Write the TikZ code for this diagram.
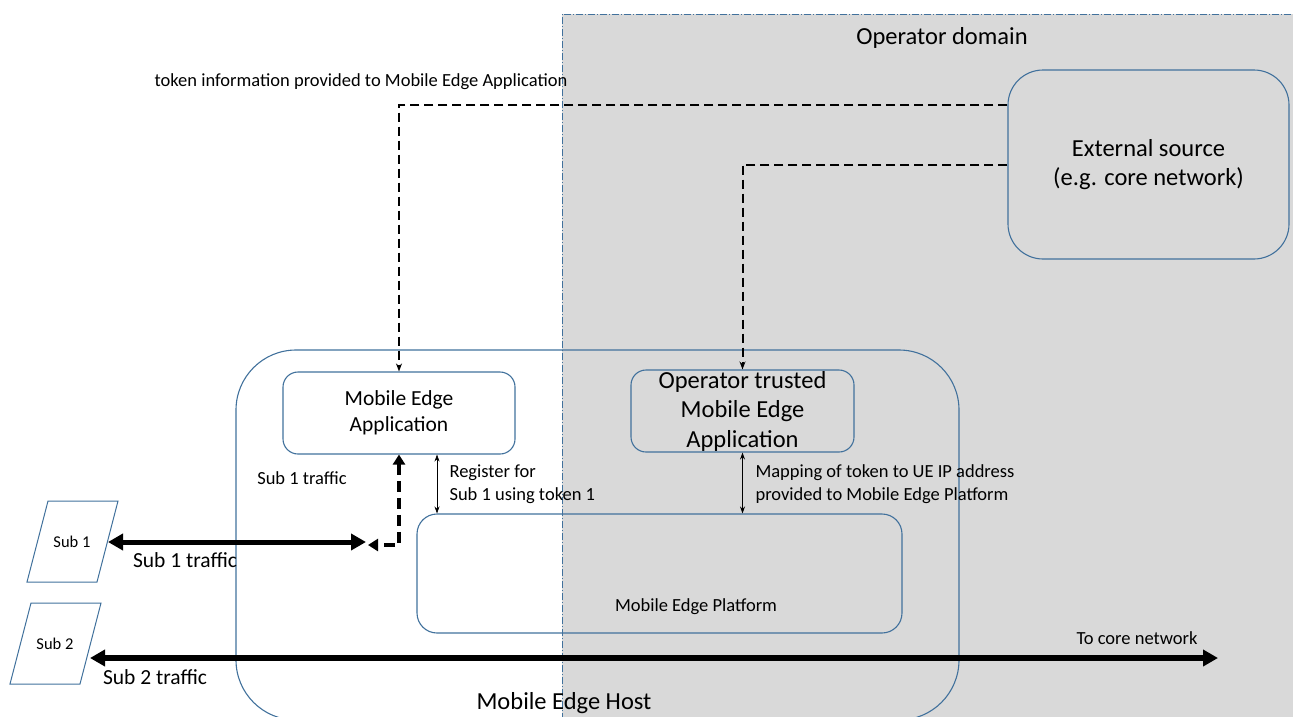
\documentclass[tikz,border=0pt]{standalone}
\usepackage{fontspec}
\setmainfont{Carlito}
\usetikzlibrary{arrows.meta}
\definecolor{opgray}{RGB}{217,217,217}
\definecolor{boxblue}{RGB}{65,113,156}
\begin{document}
\begin{tikzpicture}[x=1pt,y=-1pt,
	box/.style={draw=boxblue,line width=1.1pt,rounded corners=#1,align=center,inner sep=0pt},
	box/.default=15pt,
	txtS/.style={font=\fontsize{18.5}{23}\selectfont,align=left},
	txtM/.style={font=\fontsize{21.5}{26}\selectfont,align=center},
	txtL/.style={font=\fontsize{24.5}{29.5}\selectfont,align=center},
	fat/.style={line width=5pt,{Triangle[length=15pt,width=16pt]}-{Triangle[length=15pt,width=16pt]}},
	fatdash/.style={line width=4pt,dash pattern=on 11pt off 6pt,{Triangle[length=10pt,width=12pt]}-{Triangle[length=10pt,width=12pt]}},
	token/.style={line width=2pt,dash pattern=on 9pt off 5pt,-{Stealth[length=8pt,width=6pt]}},
	link/.style={line width=0.7pt,{Stealth[length=7pt,width=5pt]}-{Stealth[length=7pt,width=5pt]}}]
	\clip (0,0) rectangle (1293,716);
	\fill[opgray] (562,14) rectangle (1300,720);
	\draw[boxblue,line width=1pt,dash pattern=on 7pt off 2pt on 1pt off 2pt] (562,720)--(562,14)--(1300,14);
	\node[txtL] (dom) at (942,38) {Operator domain};
	\node[box=60pt,minimum width=723pt,minimum height=370pt] (host) at (597.5,535) {};
	\node[txtL] (hostlbl) at (564,703) {Mobile Edge Host};
	\node[box,txtM,minimum width=232pt,minimum height=82pt] (mea) at (399,413) {Mobile Edge\\Application};
	\node[box,txtL,minimum width=223pt,minimum height=82pt] (otmea) at (742.5,411) {Operator trusted\\Mobile Edge\\Application};
	\node[box=20pt,minimum width=485pt,minimum height=119pt] (mep) at (659.5,573.5) {};
	\node[txtS] (meplbl) at (696,607) {Mobile Edge Platform};
	\node[box=35pt,txtL,minimum width=281pt,minimum height=189pt] (ext) at (1148.5,164.5) {External source\\(e.g. core network)};
	\foreach \n/\x/\y in {1/48/501,2/31/603}{
		\draw[boxblue,line width=1pt] (\x,\y) -- ++(70,0) -- ++(-21,81) -- ++(-70,0) -- cycle;
		\node[font=\fontsize{16.5}{18}\selectfont] (sub\n) at (\x+24,\y+41) {Sub \n};
	}
	\path (108,542) coordinate (s1a)
		(366,542) coordinate (s1b)
		(368,545) coordinate (jn)
		(90,658) coordinate (s2a)
		(1218,658) coordinate (core);
	\draw[token] ([yshift=59.5pt]ext.west) -| (mea.north);
	\draw[token] (ext.west) -| (otmea.north);
	\node[txtS] (toklbl) at (361,82) {token information provided to Mobile Edge Application};
	\draw[fat] (s1a) -- (s1b);
	\node[txtM] (s1lbl) at (185,560) {Sub 1 traffic};
	\draw[fatdash] (mea.south) |- (jn);
	\node[txtS] (s1in) at (302,478) {Sub 1 traffic};
	\draw[link] ([xshift=38pt]mea.south) -- ([xshift=38pt]mea.south |- mep.north);
	\node[txtS,anchor=west] (reglbl) at (446,484) {Register for\\Sub 1 using token 1};
	\draw[link] (otmea.south) -- (otmea.south |- mep.north);
	\node[txtS,anchor=west] (maplbl) at (752,484) {Mapping of token to UE IP address\\provided to Mobile Edge Platform};
	\draw[fat,line width=6pt] (s2a) -- (core);
	\node[txtM] (s2lbl) at (155,677) {Sub 2 traffic};
	\node[txtS] (corelbl) at (1137,638) {To core network};
\end{tikzpicture}
\end{document}
